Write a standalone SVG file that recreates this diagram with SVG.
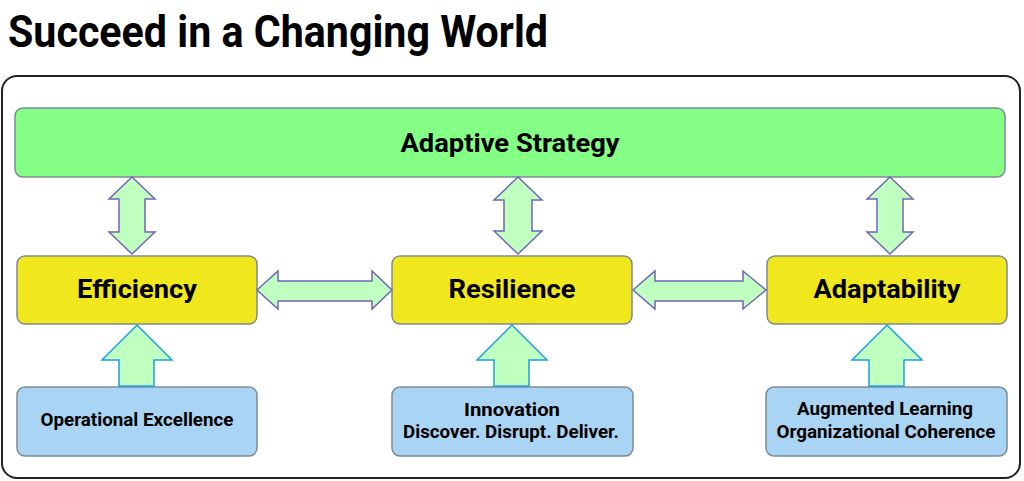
<svg xmlns="http://www.w3.org/2000/svg" width="1024" height="481" viewBox="0 0 1024 481">
<style>
text{font-family:Roboto,"Liberation Sans",sans-serif;font-weight:bold;fill:#000;text-anchor:middle}
.title{text-anchor:start;font-size:44px}
.big{font-size:25px}
.small{font-size:18px}
.green{fill:#84fe84;stroke:#7d8a96;stroke-width:1.5}
.yellow{fill:#f0e71c;stroke:#7d8a96;stroke-width:1.5}
.blue{fill:#a9d4f3;stroke:#7d8a96;stroke-width:1.5}
.dbl{fill:#bfffbf;stroke:#7463b8;stroke-width:1.5;stroke-linejoin:miter}
.up{fill:#bfffbf;stroke:#1f9ee0;stroke-width:1.5}
</style>
<rect width="1024" height="481" fill="#fff"/>
<text class="title" x="8" y="47" textLength="540" lengthAdjust="spacingAndGlyphs">Succeed in a Changing World</text>
<rect x="2" y="76" width="1018" height="402" rx="15" fill="#fff" stroke="#222" stroke-width="2"/>
<g id="adaptive-strategy">
<rect class="green" x="15" y="108" width="990" height="69" rx="8"/>
<text class="big" x="510" y="152" textLength="219" lengthAdjust="spacingAndGlyphs">Adaptive Strategy</text>
</g>
<g id="efficiency">
<rect class="yellow" x="17" y="256" width="240" height="68" rx="8"/>
<text class="big" x="137" y="298" textLength="120" lengthAdjust="spacingAndGlyphs">Efficiency</text>
</g>
<g id="resilience">
<rect class="yellow" x="392" y="256" width="240" height="68" rx="8"/>
<text class="big" x="512" y="298" textLength="127" lengthAdjust="spacingAndGlyphs">Resilience</text>
</g>
<g id="adaptability">
<rect class="yellow" x="767" y="256" width="240" height="68" rx="8"/>
<text class="big" x="887" y="298" textLength="147" lengthAdjust="spacingAndGlyphs">Adaptability</text>
</g>
<g id="operational-excellence">
<rect class="blue" x="17" y="387" width="240" height="69" rx="8"/>
<text class="small" x="137" y="426" textLength="193" lengthAdjust="spacingAndGlyphs">Operational Excellence</text>
</g>
<g id="innovation">
<rect class="blue" x="392" y="387" width="241" height="69" rx="8"/>
<text class="small" x="512" y="416" textLength="96" lengthAdjust="spacingAndGlyphs">Innovation</text>
<text class="small" x="511" y="438" textLength="216" lengthAdjust="spacingAndGlyphs">Discover. Disrupt. Deliver.</text>
</g>
<g id="augmented-learning">
<rect class="blue" x="766" y="387" width="241" height="69" rx="8"/>
<text class="small" x="885" y="415" textLength="176" lengthAdjust="spacingAndGlyphs">Augmented Learning</text>
<text class="small" x="886" y="438" textLength="219" lengthAdjust="spacingAndGlyphs">Organizational Coherence</text>
</g>
<g id="connectors">
<polygon class="dbl" points="132,177 155,199 145,199 145,232 155,232 132,254 109,232 119,232 119,199 109,199"/>
<polygon class="dbl" points="518,177 542,200 532,200 532,231 542,231 518,254 494,231 504,231 504,200 494,200"/>
<polygon class="dbl" points="890,177 913,199 903,199 903,232 913,232 890,254 867,232 877,232 877,199 867,199"/>
<polygon class="dbl" points="257,290 278,271 278,281 372,281 372,271 392,290 372,309 372,301 278,301 278,309"/>
<polygon class="dbl" points="633,290 655,271 655,281 743,281 743,271 766,290 743,309 743,301 655,301 655,309"/>
<polygon class="up" points="137,325 172,360 154,360 154,386 119,386 119,360 102,360"/>
<polygon class="up" points="512,325 547,360 529,360 529,386 494,386 494,360 477,360"/>
<polygon class="up" points="887,325 922,360 904,360 904,386 869,386 869,360 852,360"/>
</g>
</svg>
